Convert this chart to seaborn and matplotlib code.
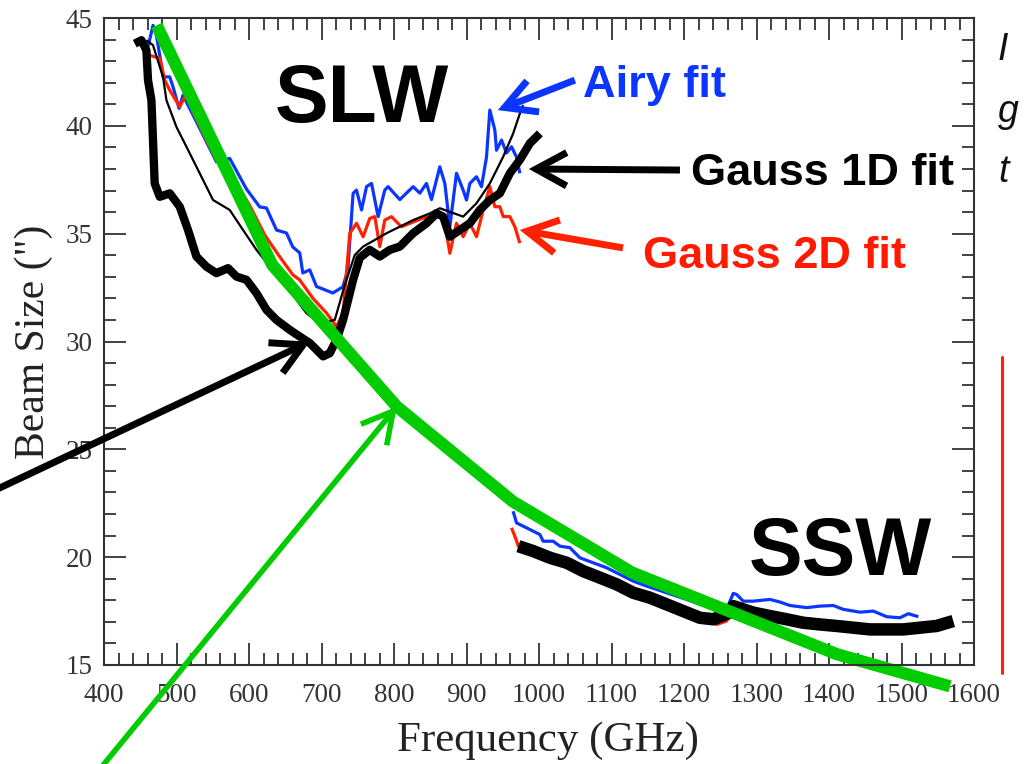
import matplotlib
matplotlib.use("Agg")
import matplotlib.pyplot as plt
import seaborn as sns
import pandas as pd
from matplotlib.ticker import MultipleLocator
from matplotlib.lines import Line2D

# ---------------- data ----------------
airy_slw_f = [460.7, 467.6, 472.3, 479.2, 481.4, 490.7, 495.2, 503.5, 509.0, 515.9, 527.5, 543.5,
              555.1, 573.4, 596.5, 614.8, 624.1, 637.9, 651.7, 660.4, 670.0, 674.2, 683.8, 693.1,
              715.6, 729.4, 736.3, 743.6, 748.3, 755.2, 762.1, 769.0, 778.1, 787.3, 791.9, 808.0,
              826.4, 835.6, 844.8, 851.7, 863.2, 870.1, 877.0, 886.2, 895.4, 900.0, 904.6, 913.8,
              920.7, 927.6, 932.2, 939.1, 941.4, 948.3, 955.2, 962.1, 969.0, 973.6]
airy_slw_b = [43.66, 44.66, 44.20, 42.81, 42.27, 42.27, 41.81, 40.81, 41.42, 40.96, 40.19, 39.11,
              38.33, 38.49, 37.07, 36.24, 36.19, 35.17, 35.03, 34.38, 34.11, 33.18, 33.32, 32.55,
              32.25, 32.53, 33.32, 36.87, 37.02, 36.10, 37.18, 37.33, 35.79, 37.02, 37.18, 36.58,
              37.18, 36.88, 37.33, 36.58, 38.10, 37.33, 35.32, 37.80, 37.02, 36.56, 37.33, 37.64,
              37.18, 38.56, 40.73, 39.80, 38.87, 39.34, 38.74, 39.03, 38.55, 37.80]

g2d_slw_f = [463.1, 476.9, 483.8, 490.7, 504.5, 513.7, 522.8, 541.3, 555.1, 568.9, 600.8, 621.7,
             642.1, 660.5, 669.8, 688.2, 706.9, 720.7, 729.8, 739.0, 748.3, 757.4, 766.6, 773.5,
             780.4, 787.3, 796.5, 810.3, 821.8, 833.3, 844.8, 853.9, 863.2, 870.1, 877.0, 886.2,
             895.4, 904.6, 913.8, 923.0, 932.2, 939.1, 946.0, 950.7, 959.8, 966.7, 973.6]
g2d_slw_b = [43.27, 43.13, 42.12, 41.65, 40.88, 41.50, 40.65, 39.34, 38.42, 38.10, 36.32, 34.94,
             33.94, 33.09, 32.86, 32.00, 31.32, 30.69, 31.32, 35.02, 35.48, 34.86, 35.71, 35.79,
             34.40, 35.63, 35.79, 35.32, 35.48, 35.63, 35.79, 35.63, 35.94, 35.48, 34.09, 35.48,
             34.86, 35.48, 34.86, 36.10, 37.18, 36.25, 36.25, 35.79, 35.79, 35.32, 34.56]

model_slw_f = [458.5, 467.6, 474.1, 481.4, 486.1, 499.9, 513.7, 532.0, 550.4, 573.4, 591.8, 610.3,
               628.7, 651.7, 665.5, 679.3, 697.6, 718.3, 732.1, 745.9, 757.4, 789.7, 826.4, 849.4,
               863.2, 895.4, 913.8, 932.2, 950.5, 964.4, 973.6, 978.1]
model_slw_b = [43.97, 43.74, 43.04, 42.27, 41.19, 39.95, 39.03, 37.80, 36.56, 36.10, 35.17, 34.25,
               33.47, 32.70, 31.93, 31.31, 30.85, 31.00, 32.62, 34.01, 34.40, 35.02, 35.63, 35.94,
               36.18, 35.79, 36.41, 37.33, 38.56, 39.65, 40.57, 40.96]

g1d_slw_f = [442.4, 451.6, 458.5, 460.7, 465.4, 467.6, 469.9, 476.9, 490.7, 504.5, 515.9, 527.5,
             541.3, 555.1, 571.1, 582.7, 596.5, 610.3, 624.1, 637.9, 656.2, 670.0, 683.8, 693.1,
             702.2, 711.4, 720.7, 729.8, 743.6, 752.8, 766.6, 780.4, 794.2, 808.0, 826.4, 844.8,
             858.6, 867.8, 877.0, 890.8, 904.6, 918.4, 932.2, 946.0, 959.8, 973.6, 987.4, 1001.2]
g1d_slw_b = [43.81, 43.97, 43.50, 42.12, 41.19, 39.34, 37.33, 36.71, 36.87, 36.25, 35.17, 33.94,
             33.47, 33.17, 33.40, 33.01, 32.86, 32.24, 31.47, 31.00, 30.54, 30.23, 29.93, 29.62,
             29.31, 29.46, 30.08, 31.00, 32.86, 33.88, 34.25, 33.94, 34.25, 34.40, 35.02, 35.48,
             35.94, 35.79, 34.86, 35.17, 35.48, 36.10, 36.56, 36.87, 37.80, 38.42, 39.19, 39.65]

airy_ssw_f = [964.3, 969.0, 982.8, 1001.2, 1005.7, 1019.5, 1028.8, 1042.6, 1056.4, 1074.7, 1093.2,
              1111.6, 1129.9, 1148.4, 1176.0, 1203.6, 1221.9, 1240.3, 1258.8, 1267.9, 1272.6,
              1281.7, 1295.5, 1318.5, 1332.3, 1346.1, 1369.2, 1387.5, 1405.9, 1419.7, 1442.7,
              1461.1, 1479.5, 1497.9, 1509.4, 1523.2]
airy_ssw_b = [22.13, 21.59, 21.36, 21.05, 20.74, 20.74, 20.51, 20.44, 19.97, 19.74, 19.51,
              19.20, 18.89, 18.66, 18.35, 18.04, 17.81, 17.66, 17.58, 18.32, 18.27,
              17.96, 17.96, 18.04, 17.92, 17.76, 17.66, 17.73, 17.76, 17.58, 17.45,
              17.50, 17.24, 17.19, 17.38, 17.24]

g2d_ssw_f = [962.1, 966.7, 971.5, 1084.0, 1221.9, 1245.0, 1258.8, 1265.6]
g2d_ssw_b = [21.36, 20.97, 20.51, 19.05, 17.19, 16.88, 17.04, 17.43]

g1d_ssw_f = [971.5, 992.2, 1015.3, 1038.3, 1061.2, 1084.0, 1107.0, 1130.0, 1153.0, 1176.0,
             1198.9, 1221.9, 1240.3, 1263.3, 1267.9, 1295.5, 1318.5, 1341.5, 1364.5, 1387.5,
             1410.5, 1433.5, 1456.5, 1479.5, 1502.4, 1525.4, 1548.5, 1571.4]
g1d_ssw_b = [20.51, 20.28, 19.97, 19.74, 19.35, 19.05, 18.74, 18.35, 18.12, 17.81,
             17.50, 17.19, 17.12, 17.43, 17.73, 17.43, 17.27, 17.12, 16.96, 16.88,
             16.81, 16.73, 16.65, 16.65, 16.65, 16.73, 16.81, 17.04]

trend_f = [472.7, 632.0, 803.9, 963.9, 1128.2, 1411.0, 1566.9]
trend_b = [44.66, 33.55, 26.98, 22.58, 19.29, 15.50, 14.01]

x_ticks = [400, 500, 600, 700, 800, 900, 1000, 1100, 1200, 1300, 1400, 1500, 1600]
y_ticks = [15, 20, 25, 30, 35, 40, 45]

# ---------------- style ----------------
sns.set_theme(style="ticks")
plt.rcParams["font.family"] = ["Liberation Serif", "DejaVu Serif"]

BLUE = "#0a36ff"
RED = "#ff2200"
GREEN = "#00cc00"
BLACK = "#000000"

W, H = 1025, 764
fig = plt.figure(figsize=(W / 100, H / 100), dpi=100)
ax = fig.add_axes([104 / W, 1 - 665 / H, 870 / W, 647 / H])

def frame(f, b):
    return pd.DataFrame({"Frequency": f, "Beam": b})

def draw(f, b, color, lw, clip=True):
    sns.lineplot(data=frame(f, b), x="Frequency", y="Beam", ax=ax, color=color, lw=lw,
                 sort=False, estimator=None, solid_joinstyle="round", solid_capstyle="butt")
    ax.lines[-1].set_clip_on(clip)

draw(airy_slw_f, airy_slw_b, BLUE, 2.3)
draw(g2d_slw_f, g2d_slw_b, RED, 2.3)
draw(model_slw_f, model_slw_b, BLACK, 1.6)
draw(g1d_slw_f, g1d_slw_b, BLACK, 6.0)
draw(airy_ssw_f, airy_ssw_b, BLUE, 2.3)
draw(g2d_ssw_f, g2d_ssw_b, RED, 2.3)
draw(g1d_ssw_f, g1d_ssw_b, BLACK, 9.0)
draw(trend_f, trend_b, GREEN, 8.8, clip=False)

ax.set_xlim(400, 1600)
ax.set_ylim(15, 45)
ax.set_xticks(x_ticks)
ax.set_yticks(y_ticks)
ax.xaxis.set_minor_locator(MultipleLocator(20))
ax.yaxis.set_minor_locator(MultipleLocator(1))
ax.tick_params(which="both", direction="in", top=True, right=True, colors="#333333",
               labelsize=19.5, width=1.3)
ax.tick_params(which="major", length=16)
ax.tick_params(which="minor", length=8.5)
ax.tick_params(axis="x", pad=13)
ax.tick_params(axis="y", pad=8)
for sp in ax.spines.values():
    sp.set_linewidth(1.5)
    sp.set_color("#333333")
    sp.set_visible(True)

ax.set_xlabel("Frequency (GHz)", fontsize=31, color="#222222")
ax.set_ylabel('Beam Size (")', fontsize=30, color="#222222")
ax.xaxis.set_label_coords(0.51, -0.088)
ax.yaxis.set_label_coords(-0.059, 0.5)

# ---------------- annotations ----------------
sans = ["Liberation Sans", "DejaVu Sans"]
def ftext(px, py, s, **kw):
    fig.text(px / W, 1 - py / H, s, family=sans, **kw)

ftext(362, 122, "SLW", fontsize=58, weight="bold", ha="center", va="baseline", color=BLACK)
ftext(840, 575, "SSW", fontsize=58, weight="bold", ha="center", va="baseline", color=BLACK)
ftext(583, 97, "Airy fit", fontsize=32.5, weight="bold", ha="left", va="baseline", color=BLUE)
ftext(691, 185, "Gauss 1D fit", fontsize=32.5, weight="bold", ha="left", va="baseline", color=BLACK)
ftext(643, 268, "Gauss 2D fit", fontsize=32.5, weight="bold", ha="left", va="baseline", color="#ff1a00")

for py, s in [(60, "I"), (122, "g"), (182, "t")]:
    ftext(998, py, s, fontsize=27, style="italic", ha="left", va="baseline", color="#111111")

def arrow(tail, tip, color, lw):
    ax.annotate("", xy=tip, xytext=tail, xycoords="data", textcoords="data",
                annotation_clip=False,
                arrowprops=dict(arrowstyle="->,head_length=1.1,head_width=0.6", mutation_scale=20,
                                lw=lw, color=color, shrinkA=0, shrinkB=0,
                                joinstyle="miter", capstyle="butt"))

arrow((1049.5, 42.12), (943.2, 40.73), BLUE, 5)
arrow((1194.4, 37.95), (986.0, 38.00), BLACK, 5)
arrow((1115.9, 34.34), (973.5, 35.17), RED, 5)
arrow((242.3, 22.99), (683.8, 29.99), BLACK, 5)
arrow((394.2, 10.17), (803.9, 26.98), GREEN, 4)

fig.add_artist(Line2D([1002 / W, 1002 / W], [1 - 357 / H, 1 - 673 / H], color=RED, lw=2.2,
                      transform=fig.transFigure))

fig.savefig("out.png", dpi=100, facecolor="white")
